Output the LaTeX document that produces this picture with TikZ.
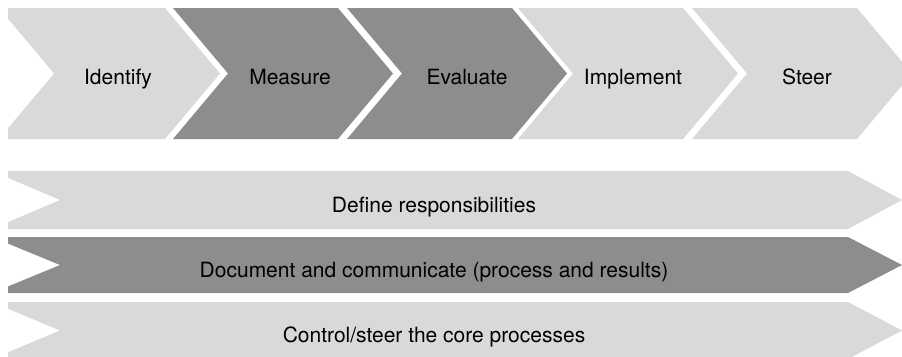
\documentclass[tikz,border=0pt]{standalone}
\usepackage{fontspec}
\setmainfont{TeX Gyre Heros}
\usepackage{tikz}
\definecolor{lightstep}{RGB}{217,217,217}
\definecolor{darkstep}{RGB}{141,141,141}
\def\chevron[#1](#2:#3){\fill[#1] (#2,8) -- (#3,8) -- ({#3+55},73.5) -- (#3,139) -- (#2,139) -- ({#2+55},73.5) -- cycle;}
\def\banner[#1](#2:#3){\fill[#1] (-8,#2) -- (848,#2) -- (902,{(#2+#3)/2}) -- (848,#3) -- (-8,#3) -- (60,{(#2+#3)/2}) -- cycle;}
\tikzset{steplabel/.style={anchor=base, font=\fontsize{21}{25}\selectfont}}

\begin{document}
\begin{tikzpicture}[x=1pt, y=-1pt]
		%%%%% START %%%%%
		\useasboundingbox (0,0) rectangle (902,356);
		\begin{scope}
		\clip (8,0) rectangle (902,356);
		
		% process steps
		\chevron[lightstep](-1:165);
		\chevron[darkstep](173:338);
		\chevron[darkstep](347:512);
		\chevron[lightstep](518:683);
		\chevron[lightstep](692:857);
		
		\node[steplabel] (identify) at (118, 84) {Identify};
		\node[steplabel] (measure) at (290, 84) {Measure};
		\node[steplabel] (evaluate) at (467, 84) {Evaluate};
		\node[steplabel] (implement) at (633, 84) {Implement};
		\node[steplabel] (steer) at (807, 84) {Steer};
		
		% ongoing tasks
		\banner[lightstep](171:229);
		\banner[darkstep](237:293);
		\banner[lightstep](302:359);
		
		\node[steplabel] (define) at (434, 212) {Define responsibilities};
		\node[steplabel] (document) at (434, 277) {Document and communicate (process and results)};
		\node[steplabel] (control) at (434, 342) {Control/steer the core processes};
		\end{scope}
		
		%%%%% END %%%%%
	\end{tikzpicture}
\end{document}
